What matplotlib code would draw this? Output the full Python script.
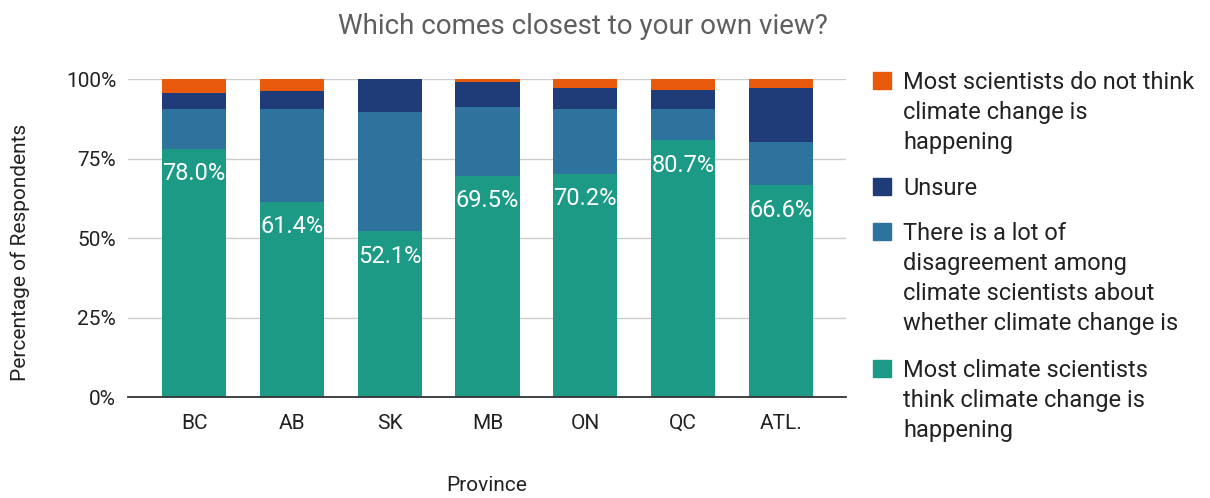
import matplotlib
matplotlib.use("Agg")
import matplotlib.pyplot as plt
from matplotlib.patches import Rectangle

plt.rcParams["font.family"] = ["Roboto", "DejaVu Sans"]

provinces = ["BC", "AB", "SK", "MB", "ON", "QC", "ATL."]
agree = [78.0, 61.4, 52.1, 69.5, 70.2, 80.7, 66.6]
disagreement = [12.6, 29.2, 37.6, 21.8, 20.4, 9.9, 13.7]
unsure = [5.1, 5.6, 10.3, 7.8, 6.5, 6.0, 16.8]
not_happening = [4.3, 3.8, 0.0, 0.9, 2.9, 3.4, 2.9]

series_names = [
    "Most climate scientists\nthink climate change is\nhappening",
    "There is a lot of\ndisagreement among\nclimate scientists about\nwhether climate change is",
    "Unsure",
    "Most scientists do not think\nclimate change is\nhappening",
]
colors = ["#1C9A86", "#2E729E", "#1F3B78", "#E8590C"]

W, H = 1210, 498
fig = plt.figure(figsize=(W / 100, H / 100), dpi=100)
ax = fig.add_axes([128 / W, 1 - 397 / H, (846 - 128) / W, (397 - 79) / H])

x = list(range(len(provinces)))
bottom = [0.0] * len(provinces)
for vals, col in zip([agree, disagreement, unsure, not_happening], colors):
    ax.bar(x, vals, width=0.655, bottom=bottom, color=col, zorder=3, linewidth=0)
    bottom = [b + v for b, v in zip(bottom, vals)]

# value labels just inside the top of the green segment
for xi, v in zip(x, agree):
    ax.annotate(f"{v:.1f}%", xy=(xi, v), xytext=(0, -18), textcoords="offset points",
                ha="center", va="center", color="white", fontsize=17, zorder=4)

ax.set_xlim(-0.677, 6.667)
ax.set_ylim(0, 100)
ax.set_yticks([0, 25, 50, 75, 100])
ax.set_yticklabels([f"{t}%" for t in [0, 25, 50, 75, 100]])
ax.set_xticks(x)
ax.set_xticklabels(provinces)
ax.tick_params(axis="y", length=0, pad=8.5, labelsize=15, labelcolor="#222222")
ax.tick_params(axis="x", length=0, pad=12, labelsize=15, labelcolor="#222222")
ax.grid(axis="y", color="#cccccc", lw=1, zorder=0)
for s in ["top", "right", "left"]:
    ax.spines[s].set_visible(False)
ax.spines["bottom"].set_color("#333333")
ax.spines["bottom"].set_linewidth(1.3)
ax.spines["bottom"].set_zorder(5)

fig.text(583 / W, 1 - 27 / H, "Which comes closest to your own view?", ha="center",
         va="center", fontsize=20, color="#5f5f5f")
fig.text(20 / W, 1 - 252 / H, "Percentage of Respondents", rotation=90, ha="center",
         va="center", fontsize=15, color="#222222")
fig.text(487 / W, 1 - 485 / H, "Province", ha="center", va="center",
         fontsize=15, color="#222222")

# legend, top entry first
legend_baselines = [89, 195, 240, 377]
line_gap = 30
for name, col, base in zip(series_names[::-1], colors[::-1], legend_baselines):
    fig.patches.append(Rectangle((873 / W, 1 - base / H), 18 / W, 17 / H,
                                 transform=fig.transFigure, color=col))
    for k, line in enumerate(name.split("\n")):
        fig.text(903 / W, 1 - (base + k * line_gap) / H, line, ha="left",
                 va="baseline", fontsize=17, color="#222222")

fig.savefig("out.png", dpi=100, facecolor="white")
